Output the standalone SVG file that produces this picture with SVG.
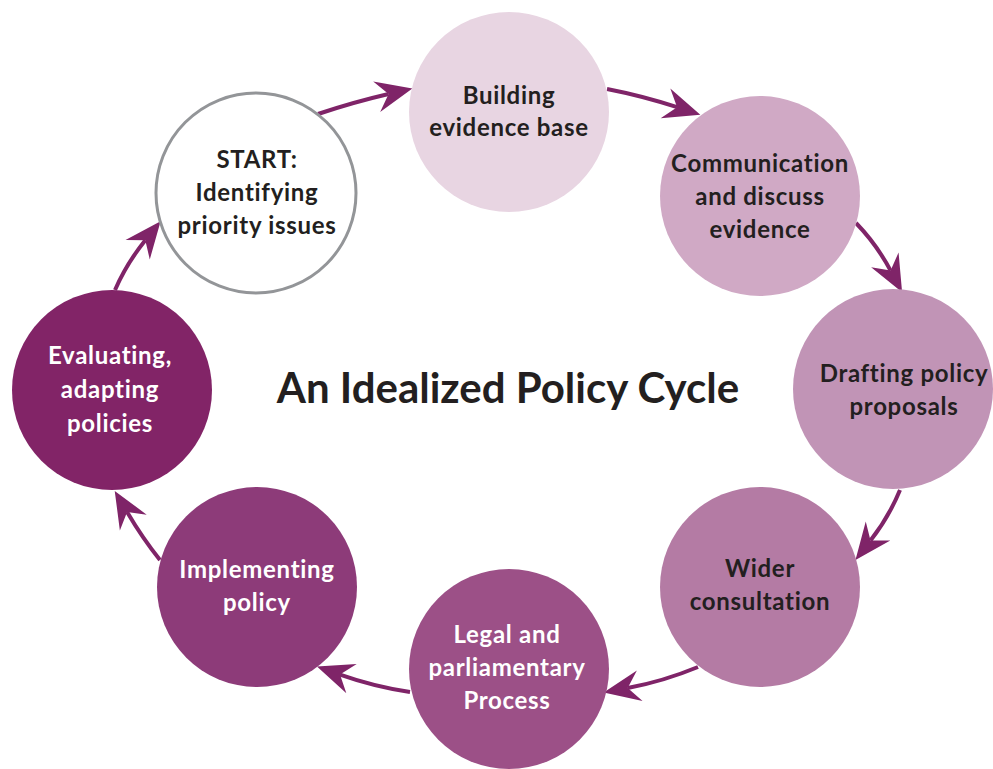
<svg xmlns="http://www.w3.org/2000/svg" width="993" height="769" viewBox="0 0 993 769">
<style>
.lbl{font-family:Lato,"Open Sans","Liberation Sans",sans-serif;font-weight:700;font-size:24px;letter-spacing:0.7px;text-anchor:middle}
.dk{fill:#231f20}
.wt{fill:#ffffff}
.title{font-family:Lato,"Open Sans","Liberation Sans",sans-serif;font-weight:700;font-size:42px;text-anchor:middle;fill:#231f20}
.conn{fill:none;stroke:#7f2468;stroke-width:4;marker-end:url(#ah)}
</style>
<defs>
<marker id="ah" markerUnits="userSpaceOnUse" markerWidth="40" markerHeight="40" viewBox="-12 -16 36 32" refX="0" refY="0" orient="auto" overflow="visible">
<path d="M22,0 L-11,-14 L0,0 L-11,14 Z" fill="#7f2468"/>
</marker>
</defs>
<rect width="993" height="769" fill="#ffffff"/>
<g id="connectors">
<path class="conn" d="M318,114 Q353.5,102.1 388.6,94"/>
<path class="conn" d="M607,89 Q642.9,96 677.1,107.2"/>
<path class="conn" d="M856,223 Q876.5,244.2 890.6,270.6"/>
<path class="conn" d="M900,490 Q888.9,517 870.5,540.6"/>
<path class="conn" d="M698,667 Q663.2,681.4 627.7,688"/>
<path class="conn" d="M410,692 Q373.9,686.6 340,674.6"/>
<path class="conn" d="M160,560 Q142.3,537.9 127.1,512"/>
<path class="conn" d="M115,290 Q126.5,263.6 145.3,240.2"/>
</g>
<g id="start">
<circle cx="256" cy="193" r="100" fill="#ffffff" stroke="#939598" stroke-width="3"/>
<text class="lbl dk" x="257" y="168">START:</text>
<text class="lbl dk" x="257" y="201">Identifying</text>
<text class="lbl dk" x="257" y="234">priority issues</text>
</g>
<g id="building">
<circle cx="509" cy="112" r="100" fill="#e8d5e2"/>
<text class="lbl dk" x="509" y="104">Building</text>
<text class="lbl dk" x="509" y="136">evidence base</text>
</g>
<g id="communication">
<circle cx="760" cy="196" r="100" fill="#d0a9c5"/>
<text class="lbl dk" x="760" y="172">Communication</text>
<text class="lbl dk" x="760" y="205">and discuss</text>
<text class="lbl dk" x="760" y="238">evidence</text>
</g>
<g id="drafting">
<circle cx="893" cy="389" r="100" fill="#c194b6"/>
<text class="lbl dk" x="904" y="382">Drafting policy</text>
<text class="lbl dk" x="904" y="415">proposals</text>
</g>
<g id="wider">
<circle cx="760" cy="587" r="100" fill="#b47ba4"/>
<text class="lbl dk" x="760" y="577">Wider</text>
<text class="lbl dk" x="760" y="610">consultation</text>
</g>
<g id="legal">
<circle cx="509" cy="669" r="100" fill="#9c5087"/>
<text class="lbl wt" x="507" y="643">Legal and</text>
<text class="lbl wt" x="507" y="676">parliamentary</text>
<text class="lbl wt" x="507" y="709">Process</text>
</g>
<g id="implementing">
<circle cx="257" cy="587" r="100" fill="#8d3b79"/>
<text class="lbl wt" x="257" y="578">Implementing</text>
<text class="lbl wt" x="257" y="611">policy</text>
</g>
<g id="evaluating">
<circle cx="112" cy="390" r="100" fill="#822467"/>
<text class="lbl wt" x="110" y="364">Evaluating,</text>
<text class="lbl wt" x="110" y="398">adapting</text>
<text class="lbl wt" x="110" y="432">policies</text>
</g>
<g id="title">
<text class="title" x="508" y="403">An Idealized Policy Cycle</text>
</g>
</svg>
